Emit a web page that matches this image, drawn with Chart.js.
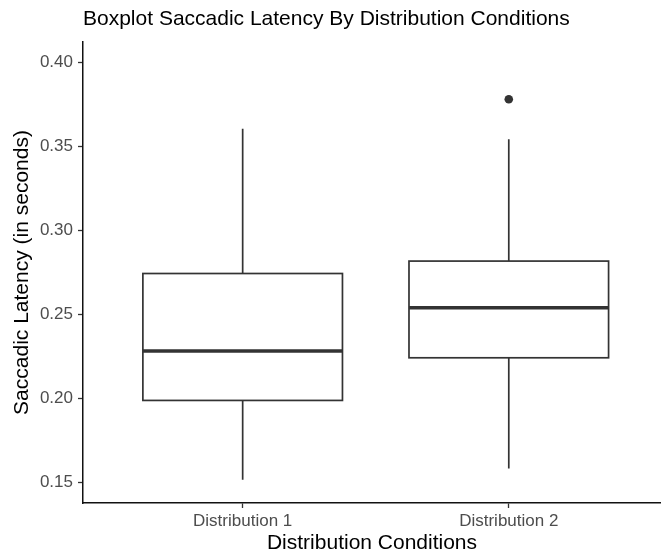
<!DOCTYPE html>
<html>
<head>
<meta charset="utf-8">
<script src="https://cdn.jsdelivr.net/npm/chart.js@4/dist/chart.umd.min.js"></script>
<style>
  html, body { margin: 0; padding: 0; background: #ffffff; }
  canvas { display: block; }
</style>
</head>
<body>
<canvas id="chart" width="661" height="554"></canvas>
<script>
// Five-number summaries of saccadic latency (seconds) per distribution condition
const categories = ['Distribution 1', 'Distribution 2'];
const whiskerLow = [0.1516, 0.1582];
const quartile1 = [0.1988, 0.2242];
const medians = [0.2282, 0.2540];
const quartile3 = [0.2744, 0.2818];
const whiskerHigh = [0.3607, 0.3544];
const outliers = [[], [0.3782]];
const yTicks = [0.15, 0.20, 0.25, 0.30, 0.35, 0.40];

const FONT = "'Liberation Sans', Arial, Helvetica, sans-serif";
const INK = '#333333';
const BOX_WIDTH = 0.75;

// Outlier points as a scatter dataset placed at each category's position
const outlierPoints = [];
outliers.forEach((vals, i) => vals.forEach(v => outlierPoints.push({ x: i + 1, y: v })));

// Draws boxes, medians and whiskers through the chart's own scales
const boxPlotPlugin = {
  id: 'boxPlot',
  beforeDatasetsDraw(chart) {
    const { ctx, scales: { x, y } } = chart;
    ctx.save();
    ctx.strokeStyle = INK;
    ctx.lineCap = 'butt';
    categories.forEach((_, i) => {
      const pos = i + 1;
      const xl = x.getPixelForValue(pos - BOX_WIDTH / 2);
      const xr = x.getPixelForValue(pos + BOX_WIDTH / 2);
      const xc = x.getPixelForValue(pos);
      const yLo = y.getPixelForValue(whiskerLow[i]);
      const yQ1 = y.getPixelForValue(quartile1[i]);
      const yMed = y.getPixelForValue(medians[i]);
      const yQ3 = y.getPixelForValue(quartile3[i]);
      const yHi = y.getPixelForValue(whiskerHigh[i]);

      // whiskers
      ctx.lineWidth = 1.7;
      ctx.beginPath();
      ctx.moveTo(xc, yQ3);
      ctx.lineTo(xc, yHi);
      ctx.moveTo(xc, yQ1);
      ctx.lineTo(xc, yLo);
      ctx.stroke();

      // box
      ctx.fillStyle = '#ffffff';
      ctx.fillRect(xl, yQ3, xr - xl, yQ1 - yQ3);
      ctx.strokeRect(xl, yQ3, xr - xl, yQ1 - yQ3);

      // median
      ctx.lineWidth = 3.6;
      ctx.beginPath();
      ctx.moveTo(xl, yMed);
      ctx.lineTo(xr, yMed);
      ctx.stroke();
    });
    ctx.restore();
  }
};

new Chart(document.getElementById('chart'), {
  type: 'scatter',
  data: {
    datasets: [{
      label: 'Outliers',
      data: outlierPoints,
      pointRadius: 4.3,
      pointBackgroundColor: INK,
      pointBorderColor: INK,
      pointBorderWidth: 0
    }]
  },
  options: {
    responsive: false,
    animation: false,
    devicePixelRatio: 1,
    layout: { autoPadding: false, padding: { left: 0, right: 0, top: 0, bottom: 0 } },
    plugins: {
      legend: { display: false },
      tooltip: { enabled: false },
      title: {
        display: true,
        text: 'Boxplot Saccadic Latency By Distribution Conditions',
        align: 'start',
        fullSize: false,
        color: '#000000',
        font: { family: FONT, size: 21, weight: 'normal' },
        padding: { top: 6.5, bottom: 10.3 }
      }
    },
    scales: {
      x: {
        type: 'linear',
        min: 0.4,
        max: 2.572,
        afterBuildTicks: (scale) => {
          scale.ticks = categories.map((_, i) => ({ value: i + 1 }));
        },
        afterFit: (scale) => { scale.height = 51; },
        ticks: {
          callback: (v) => categories[Math.round(v) - 1] ?? '',
          color: '#4d4d4d',
          font: { family: FONT, size: 17 },
          padding: 3.5,
          maxRotation: 0
        },
        grid: {
          drawOnChartArea: false,
          drawTicks: true,
          tickLength: 5,
          tickWidth: 1.3,
          tickColor: INK
        },
        border: { display: true, color: '#111111', width: 1.5 },
        title: {
          display: true,
          text: 'Distribution Conditions',
          color: '#000000',
          font: { family: FONT, size: 21, lineHeight: 1 },
          padding: { top: 0, bottom: 0 }
        }
      },
      y: {
        type: 'linear',
        min: 0.1377,
        max: 0.4123,
        afterBuildTicks: (scale) => {
          scale.ticks = yTicks.map(v => ({ value: v }));
        },
        afterFit: (scale) => { scale.width = 83; },
        ticks: {
          callback: (v) => Number(v).toFixed(2),
          color: '#4d4d4d',
          font: { family: FONT, size: 17 },
          padding: 5
        },
        grid: {
          drawOnChartArea: false,
          drawTicks: true,
          tickLength: 5,
          tickWidth: 1.3,
          tickColor: INK
        },
        border: { display: true, color: '#111111', width: 1.5 },
        title: {
          display: true,
          text: 'Saccadic Latency (in seconds)',
          color: '#000000',
          font: { family: FONT, size: 21 },
          padding: { top: 10, bottom: 0 }
        }
      }
    }
  },
  plugins: [boxPlotPlugin]
});
</script>
</body>
</html>
